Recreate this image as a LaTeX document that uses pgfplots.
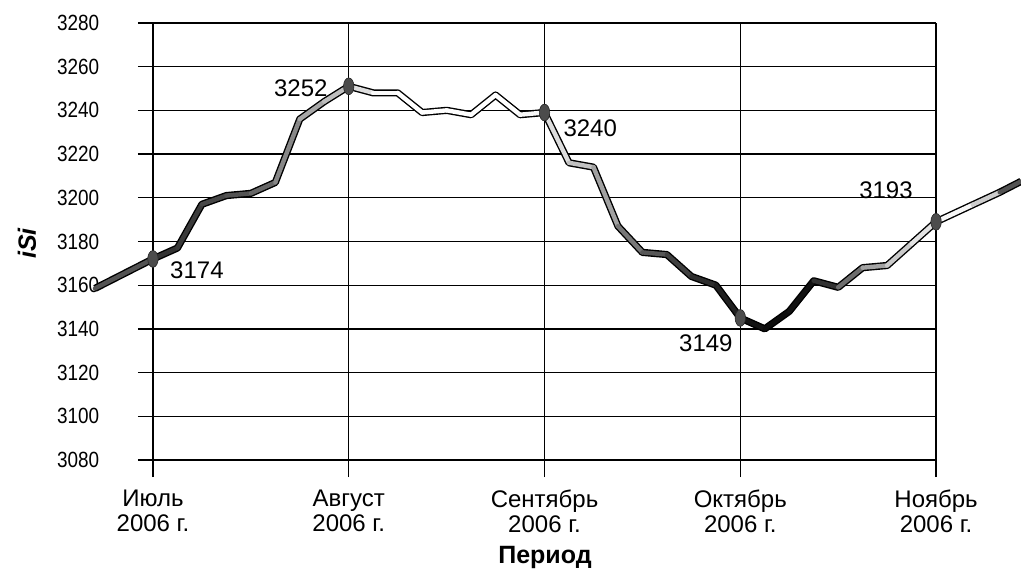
\documentclass[border=0pt]{standalone}
\usepackage{pgfplots}
\pgfplotsset{compat=1.18}
\usepackage{fontspec}
\setmainfont{Liberation Sans}

% one x unit = one step of about a week; months sit at 0, 8, 16, 24, 32
\pgfplotstableread{
x      y      c
-2.37  3158.5 0.45
0      3172   0.20
1      3177   0.20
2      3197   0.25
3      3201   0.30
4      3202   0.35
5      3207   0.45
6      3236   0.60
7      3244   0.70
8      3251   0.78
9      3248   0.95
10     3248   1.00
11     3239   1.00
12     3240   1.00
13     3238   1.00
14     3247   1.00
15     3238   1.00
16     3239   0.92
17     3216   0.80
18     3214   0.70
19     3187   0.55
20     3175   0.38
21     3174   0.30
22     3164   0.20
23     3160   0.15
24     3145   0.10
25     3140   0.05
26     3148   0.05
27     3162   0.08
28     3159   0.30
29     3168   0.55
30     3169   0.72
31     3179   0.85
32     3189   0.92
33.5   3196.8 1.00
34.6   3202.5 0.60
35.47  3207.5 0.05
}\series

\pgfplotstableread{
x   y
0   3172
8   3251
16  3239
24  3145
32  3189
}\marks

\begin{document}
\begin{tikzpicture}
\begin{axis}[
    scale only axis,
    width=399pt, height=227pt,
    xmin=-0.613, xmax=32,
    ymin=3072.2, ymax=3280,
    clip=false,
    axis line style={draw=none},
    major tick length=0pt,
    xtick={0,8,16,24,32},
    xticklabels={Июль\\2006 г., Август\\2006 г., Сентябрь\\2006 г., Октябрь\\2006 г., Ноябрь\\2006 г.},
    ytick={3080,3100,...,3280},
    xmajorgrids, ymajorgrids,
    grid style={black, line width=0.65pt},
    /pgf/number format/assume math mode=true,
    /pgf/number format/1000 sep={},
    yticklabel style={font=\fontsize{11}{12}\selectfont, xscale=0.86, xshift=-19pt},
    xticklabel style={font=\fontsize{12}{12.5}\selectfont, align=center, yshift=-3pt},
    xlabel={Период},
    ylabel={\textit{iSi}},
    label style={font=\fontsize{12.5}{14}\selectfont\bfseries},
    xlabel style={at={(axis description cs:0.51,-0.178)}, anchor=center},
    ylabel style={at={(axis description cs:-0.139,0.515)}, anchor=center, rotate=0},
    colormap={bw}{gray(0cm)=(0); gray(1cm)=(1)},
    point meta min=0, point meta max=1,
]
% tube outline
\addplot[black, line width=3.6pt, line join=round, line cap=butt] table[x=x, y=y] {\series};
% tube body, shaded along its length
\addplot[mesh, line width=2.2pt, line join=round, line cap=round, point meta=explicit]
    table[x=x, y=y, meta=c] {\series};
% month markers
\addplot[only marks, mark=*, mark size=4.2pt,
    mark options={xscale=0.62, fill=black!70, draw=black!85, line width=0.3pt}]
    table[x=x, y=y] {\marks};

\begin{scope}[every node/.style={font=\fontsize{12}{14}\selectfont, inner sep=0pt}]
\node[anchor=west] at (axis cs:0.69,3167) {3174};
\node[anchor=east] at (axis cs:7.15,3250.3) {3252};
\node[anchor=west] at (axis cs:16.76,3232) {3240};
\node[anchor=east] at (axis cs:23.7,3133.5) {3149};
\node[anchor=east] at (axis cs:31.06,3203.6) {3193};
\end{scope}

\coordinate (bbsw) at (axis cs:-6.25,3029.7);
\coordinate (bbne) at (axis cs:35.47,3290.5);
\end{axis}
\pgfresetboundingbox
\useasboundingbox (bbsw) rectangle (bbne);
\end{tikzpicture}
\end{document}
